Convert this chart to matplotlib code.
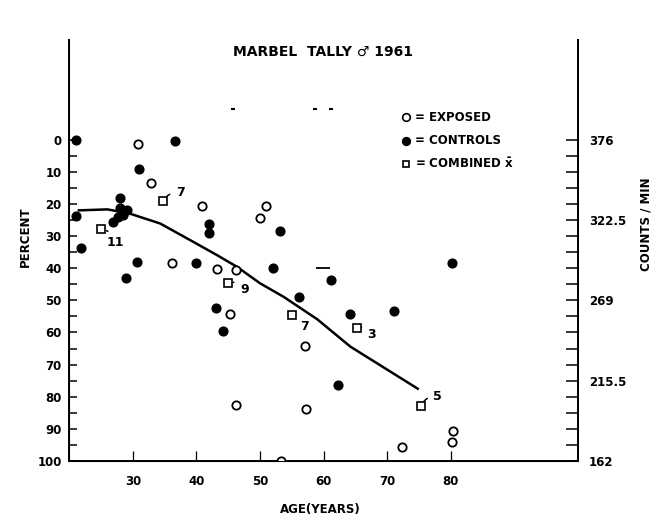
import matplotlib
matplotlib.use('Agg')
import matplotlib.pyplot as plt
from matplotlib.ticker import FixedLocator

plt.rcParams['font.family'] = ['DejaVu Sans']
plt.rcParams['font.weight'] = 'bold'
plt.rcParams['mathtext.fontset'] = 'dejavusans'

# exposed (open circles), age vs percent
exposed_age = [30.8, 32.8, 40.9, 51.0, 50.0, 36.1, 43.2, 46.2, 45.2, 46.2,
               57.1, 57.3, 72.4, 80.4, 80.2, 53.3]
exposed_pct = [1.5, 13.6, 20.6, 20.7, 24.3, 38.5, 40.3, 40.6, 54.3, 82.6,
               64.3, 83.9, 95.5, 90.6, 94.0, 100.0]

# controls (filled circles)
controls_age = [21.0, 36.7, 31.0, 27.9, 28.0, 29.0, 28.5, 26.9, 27.7, 21.1,
                21.9, 42.0, 42.0, 30.7, 40.0, 28.9, 43.1, 44.1, 53.1, 52.0,
                61.1, 56.1, 64.1, 71.1, 80.2, 62.2]
controls_pct = [0.0, 0.4, 9.0, 18.3, 21.4, 22.0, 23.4, 25.6, 24.0, 23.8,
                33.8, 26.1, 29.0, 38.0, 38.5, 43.0, 52.5, 59.5, 28.4, 39.8,
                43.7, 49.1, 54.4, 53.3, 38.4, 76.4]

# combined means (open squares) with sample counts
combined_age = [25.0, 34.8, 44.9, 55.0, 65.2, 75.3]
combined_pct = [27.8, 19.1, 44.5, 54.7, 58.6, 82.9]
combined_n = ['11', '7', '9', '7', '3', '5']

# fitted curve
curve_age = [21.5, 26.0, 29.5, 34.3, 39.5, 43.2, 46.4, 50.0, 53.7, 59.0, 64.2, 74.8]
curve_pct = [22.0, 21.7, 23.0, 26.1, 31.8, 35.9, 39.6, 44.7, 48.9, 55.9, 64.4, 77.5]

# stray marks on the original sheet
specks_age = [45.8, 58.7, 61.2]
specks_pct = [-9.5, -9.5, -9.5]
dash_age = [59.9]
dash_pct = [39.8]

x_ticks = [30, 40, 50, 60, 70, 80]
pct_ticks = list(range(0, 101, 10))
pct_minor = list(range(0, 101, 5))
count_labels = ['376', '322.5', '269', '215.5', '162']
count_top, count_bottom = 376.0, 162.0

# label offsets (points) for the n annotations
n_offsets = [(10, -10), (12, 6), (12, -5), (9, -8), (11, -4.5), (12, 7)]

fig = plt.figure(figsize=(6.55, 5.24), dpi=100)
ax = fig.add_axes([0.1058, 0.1202, 0.7766, 0.8034])

ax.plot(curve_age, curve_pct, color='black', lw=1.8, zorder=2)
ax.plot(exposed_age, exposed_pct, 'o', ms=6, mfc='white', mec='black', mew=1.3, zorder=3)
ax.plot(controls_age, controls_pct, 'o', ms=6.3, color='black', zorder=3, clip_on=False)
ax.plot(combined_age, combined_pct, 's', ms=5.5, mfc='white', mec='black', mew=1.2, zorder=4)
ax.plot(specks_age, specks_pct, '_', ms=3, color='black', mew=1.5)
ax.plot(dash_age, dash_pct, '_', ms=10, color='black', mew=1.3)

for a, p, n, off in zip(combined_age, combined_pct, combined_n, n_offsets):
    ax.annotate(n, (a, p), xytext=off, textcoords='offset points',
                ha='center', va='center', fontsize=9, fontweight='bold',
                arrowprops=dict(arrowstyle='-', lw=1.1, color='black',
                                shrinkA=2.5, shrinkB=4,
                                connectionstyle='arc3,rad=0.35'))

ax.set_xlim(20, 100)
ax.set_ylim(100, -31)
ax.xaxis.set_major_locator(FixedLocator(x_ticks))
ax.yaxis.set_major_locator(FixedLocator(pct_ticks))
ax.yaxis.set_minor_locator(FixedLocator(pct_minor))
ax.tick_params(axis='x', direction='in', length=7, width=0.9, pad=10, labelsize=8.5)
ax.tick_params(axis='y', which='both', direction='in', length=6, width=1.1, pad=5.5, labelsize=8.5)
for lab in ax.get_xticklabels() + ax.get_yticklabels():
    lab.set_fontweight('bold')
ax.spines['top'].set_visible(False)
for s in ['left', 'bottom', 'right']:
    ax.spines[s].set_linewidth(1.4)

# counts / min scale on the right, same positions as percent
ax2 = ax.twinx()
span = count_top - count_bottom
ax2.set_ylim(count_bottom, count_top + span * 0.31)
ax2.yaxis.set_major_locator(FixedLocator([count_top - span * k / 4 for k in range(5)]))
ax2.yaxis.set_minor_locator(FixedLocator([count_top - span * k / 20 for k in range(21)]))
ax2.set_yticklabels(count_labels)
ax2.tick_params(axis='y', which='both', direction='in', length=9, width=1.1, pad=8, labelsize=8.5)
for lab in ax2.get_yticklabels():
    lab.set_fontweight('bold')
ax2.spines['top'].set_visible(False)
ax2.spines['right'].set_linewidth(1.4)

# legend drawn by hand
leg_rows = [('o', 'white', '= EXPOSED'), ('o', 'black', '= CONTROLS'),
            ('s', 'white', r'= COMBINED $\bar{\mathbf{x}}$')]
for i, (m, fc, txt) in enumerate(leg_rows):
    y = 0.817 - i * 0.056
    ax.plot([0.662], [y], m, ms=5.5 if m == 'o' else 5, mfc=fc, mec='black', mew=1.2,
            transform=ax.transAxes, clip_on=False)
    ax.text(0.679, y, txt, transform=ax.transAxes, fontsize=8.5, fontweight='bold',
            va='center', ha='left')

ax.text(0.498, 0.971, 'MARBEL  TALLY \u2642 1961', transform=ax.transAxes,
        ha='center', va='center', fontsize=10, fontweight='bold')

fig.text(25 / 655, 1 - 237 / 524, 'PERCENT', rotation=90, ha='center', va='center',
         fontsize=8.5, fontweight='bold')
fig.text(646 / 655, 1 - 224 / 524, 'COUNTS / MIN', rotation=90, ha='center', va='center',
         fontsize=8.5, fontweight='bold')
fig.text(320 / 655, 1 - 510 / 524, 'AGE(YEARS)', ha='center', va='center',
         fontsize=8.5, fontweight='bold')

fig.savefig('out.png', dpi=100)
plt.close(fig)
